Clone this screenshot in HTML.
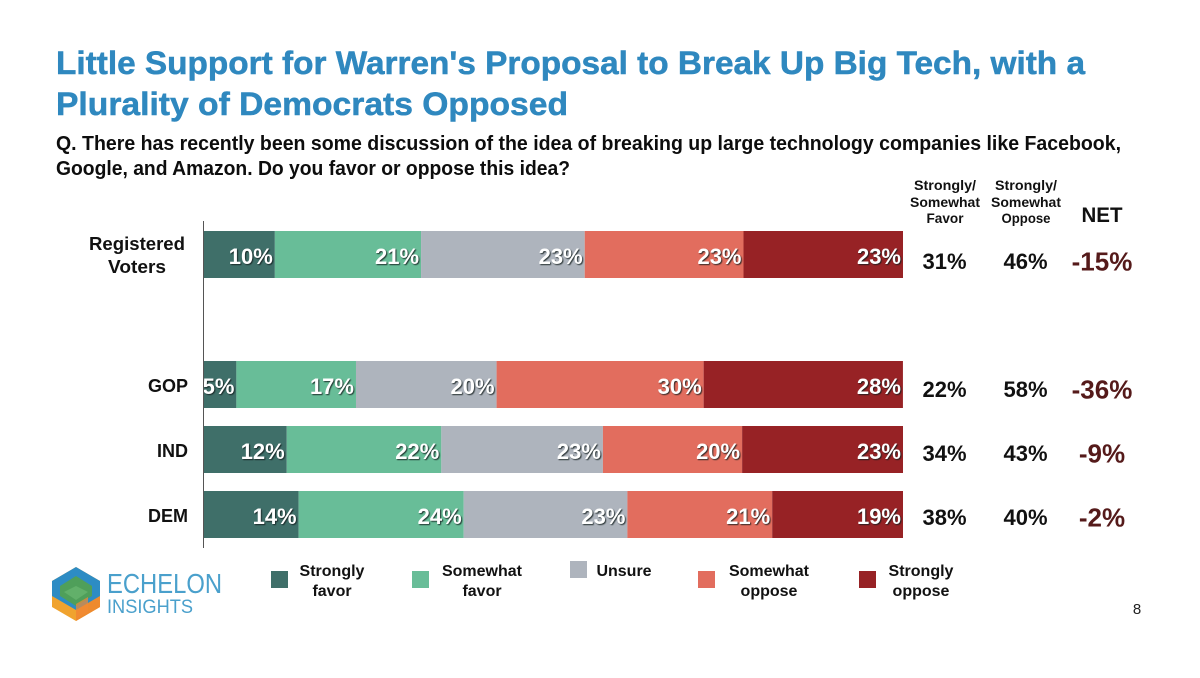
<!DOCTYPE html>
<html lang="en">
<head>
<meta charset="utf-8">
<title>Little Support for Warren's Proposal</title>
<style>
html,body{margin:0;padding:0;background:#fff;width:1200px;height:678px;overflow:hidden}
svg{display:block}
text{font-family:"Liberation Sans",Arial,sans-serif;font-weight:700}
.shadow{filter:drop-shadow(1px 1px .6px rgba(20,30,30,.85))}
.heavy{stroke:currentColor;stroke-width:.5px}
</style>
</head>
<body>
<svg id="chart" width="1200" height="678" viewBox="0 0 1200 678" xmlns="http://www.w3.org/2000/svg">
  <rect width="1200" height="678" fill="#fff"/>
  <text x="56" y="74" font-size="32" fill="#2f88bf" color="#2f88bf" class="heavy" textLength="1029" lengthAdjust="spacingAndGlyphs">Little Support for Warren's Proposal to Break Up Big Tech, with a</text>
  <text x="56" y="115" font-size="32" fill="#2f88bf" color="#2f88bf" class="heavy" textLength="512" lengthAdjust="spacingAndGlyphs">Plurality of Democrats Opposed</text>
  <text x="56" y="150" font-size="20" fill="#0d0d0d" textLength="1065" lengthAdjust="spacingAndGlyphs">Q. There has recently been some discussion of the idea of breaking up large technology companies like Facebook,</text>
  <text x="56" y="175" font-size="20" fill="#0d0d0d" textLength="514" lengthAdjust="spacingAndGlyphs">Google, and Amazon. Do you favor or oppose this idea?</text>

  <g font-size="14" fill="#111" text-anchor="middle">
    <text x="945" y="190" textLength="62" lengthAdjust="spacingAndGlyphs">Strongly/</text>
    <text x="945" y="207" textLength="70" lengthAdjust="spacingAndGlyphs">Somewhat</text>
    <text x="945" y="223" textLength="37" lengthAdjust="spacingAndGlyphs">Favor</text>
  </g>
  <g font-size="14" fill="#111" text-anchor="middle">
    <text x="1026" y="190" textLength="62" lengthAdjust="spacingAndGlyphs">Strongly/</text>
    <text x="1026" y="207" textLength="70" lengthAdjust="spacingAndGlyphs">Somewhat</text>
    <text x="1026" y="223" textLength="49" lengthAdjust="spacingAndGlyphs">Oppose</text>
  </g>
  <text x="1102" y="222" font-size="21" fill="#111" text-anchor="middle" textLength="41" lengthAdjust="spacingAndGlyphs">NET</text>

  <g id="bars"></g>
  <g id="cats"></g>
  <g id="summary"></g>
  <line x1="203.5" y1="221" x2="203.5" y2="548" stroke="#555" stroke-width="1"/>
  <g id="legend"></g>

  <g>
    <polygon points="76,567 100,581 100,607 76,621 52,607 52,581" fill="#f0a32f"/>
    <polygon points="76,594 100,581 100,607 76,621" fill="#ee8a2e"/>
    <polygon points="76,567 100,581 100,596 76,610 52,596 52,581" fill="#2d8cc4"/>
    <polygon points="76,576 92,586 92,596 76,606 60,596 60,586" fill="#4f9f5a"/>
    <polygon points="76,586 88,592 76,600 64,592" fill="#62b06a"/>
    <polygon points="76,604 88,597 88,612 76,619" fill="#f28a35" opacity=".7"/>
    <text x="107" y="593" font-size="28" fill="#4aa0cc" style="font-weight:400" textLength="115" lengthAdjust="spacingAndGlyphs">ECHELON</text>
    <text x="107" y="613" font-size="19" fill="#4aa0cc" style="font-weight:400" textLength="86" lengthAdjust="spacingAndGlyphs">INSIGHTS</text>
  </g>
  <text x="1137" y="614" font-size="15" fill="#222" text-anchor="middle" style="font-weight:400">8</text>
</svg>

<script>
const categories = ['Registered Voters', 'GOP', 'IND', 'DEM'];
const seriesNames = ['Strongly favor', 'Somewhat favor', 'Unsure', 'Somewhat oppose', 'Strongly oppose'];
const stronglyFavor = [10.2, 4.7, 11.9, 13.6];
const somewhatFavor = [20.9, 17.1, 22.1, 23.6];
const unsure = [23.4, 20.1, 23.1, 23.4];
const somewhatOppose = [22.7, 29.6, 19.9, 20.7];
const stronglyOppose = [22.8, 28.49, 23.0, 18.7];
const favorTotals = [31, 22, 34, 38];
const opposeTotals = [46, 58, 43, 40];
const netValues = [-15, -36, -9, -2];

const seriesValues = [stronglyFavor, somewhatFavor, unsure, somewhatOppose, stronglyOppose];
const seriesColors = ['#3f6f69', '#68bd98', '#aeb4bd', '#e26d5e', '#972225'];
const NS = 'http://www.w3.org/2000/svg';

function xScale(v) { return 203.5 + v * 6.995; }
function rowTop(i) { return i === 0 ? 231 : 361 + (i - 1) * 65; }
function summaryBaseline(i) { return i === 0 ? 269 : 397 + (i - 1) * 64; }
const BAR_H = 47;

function svgEl(tag, attrs, parent, txt) {
  const el = document.createElementNS(NS, tag);
  for (const k in attrs) el.setAttribute(k, attrs[k]);
  if (txt !== undefined) el.textContent = txt;
  parent.appendChild(el);
  return el;
}

const barsG = document.getElementById('bars');
const catsG = document.getElementById('cats');
const summaryG = document.getElementById('summary');
const legendG = document.getElementById('legend');

categories.forEach(function (cat, i) {
  let cum = 0;
  const top = rowTop(i);
  seriesValues.forEach(function (vals, s) {
    const v = vals[i];
    const x0 = xScale(cum);
    const x1 = xScale(cum + v);
    cum += v;
    const r = svgEl('rect', {x: x0, y: top, width: x1 - x0, height: BAR_H, fill: seriesColors[s]}, barsG);
    
    
    const t = svgEl('text', {x: x1 - 2, y: top + 33, 'font-size': 22, fill: '#fff', 'text-anchor': 'end', class: 'shadow'}, barsG, Math.round(v) + '%');
    
    
  });

  if (i === 0) {
    const c1 = svgEl('text', {x: 137, y: 250, 'font-size': 18, fill: '#111', 'text-anchor': 'middle', textLength: 96, lengthAdjust: 'spacingAndGlyphs'}, catsG, 'Registered');
    
    
    const c2 = svgEl('text', {x: 137, y: 273, 'font-size': 18, fill: '#111', 'text-anchor': 'middle', textLength: 58, lengthAdjust: 'spacingAndGlyphs'}, catsG, 'Voters');
    
    
  } else {
    const c = svgEl('text', {x: 188, y: top + 31, 'font-size': 18, fill: '#111', 'text-anchor': 'end'}, catsG, cat);
    
    
  }

  const yv = summaryBaseline(i);
  const f = svgEl('text', {x: 944.5, y: yv, 'font-size': 22, fill: '#111', 'text-anchor': 'middle'}, summaryG, favorTotals[i] + '%');
  
  
  const o = svgEl('text', {x: 1025.5, y: yv, 'font-size': 22, fill: '#111', 'text-anchor': 'middle'}, summaryG, opposeTotals[i] + '%');
  
  
  const n = svgEl('text', {x: 1102, y: yv + 1.5, 'font-size': 26, fill: '#551a1a', 'text-anchor': 'middle'}, summaryG, netValues[i] + '%');
  
  
});

const legendSwatchX = [271, 412, 570, 698, 859];
const legendSwatchY = [571, 571, 561, 571, 571];
const legendTextX = [332, 482, 624, 769, 921];
seriesNames.forEach(function (name, s) {
  const sw = svgEl('rect', {x: legendSwatchX[s], y: legendSwatchY[s], width: 17, height: 17, fill: seriesColors[s]}, legendG);
  
  
  const words = name === 'Unsure' ? ['Unsure'] : name.split(' ');
  words.forEach(function (w, k) {
    const t = svgEl('text', {x: legendTextX[s], y: 576 + k * 20, 'font-size': 16, fill: '#111', 'text-anchor': 'middle'}, legendG, w);
    
    
  });
});
</script>
</body>
</html>
